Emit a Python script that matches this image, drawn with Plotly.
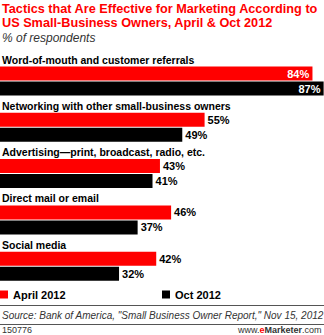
import plotly.graph_objects as go

categories = [
    "Word-of-mouth and customer referrals",
    "Networking with other small-business owners",
    "Advertising\u2014print, broadcast, radio, etc.",
    "Direct mail or email",
    "Social media",
]
april_2012 = [84, 55, 43, 46, 42]
oct_2012 = [87, 49, 41, 37, 32]
series_names = ["April 2012", "Oct 2012"]

RED = "#FF0000"
BLACK = "#000000"
FONT = "Liberation Sans, Arial, sans-serif"
W, H = 324, 335

# layout geometry (pixel units on reversed y axis)
TOP0, STEP = 52.0, 46.3
tops = [TOP0 + STEP * i for i in range(len(categories))]
red_y = [t + 21.5 for t in tops]
blk_y = [t + 36.5 for t in tops]

def positions(vals):
    return ["inside" if v >= 70 else "outside" for v in vals]

fig = go.Figure()
for name, vals, ys, col in [
    (series_names[0], april_2012, red_y, RED),
    (series_names[1], oct_2012, blk_y, BLACK),
]:
    fig.add_trace(go.Bar(
        name=name, x=vals, y=ys, orientation="h", width=14,
        marker=dict(color=col, line=dict(width=0)),
        text=[f"{v}%" for v in vals],
        textposition=positions(vals),
        insidetextanchor="end",
        insidetextfont=dict(color="white", size=11, family=FONT, weight="bold"),
        outsidetextfont=dict(color="black", size=11, family=FONT, weight="bold"),
        constraintext="none",
        cliponaxis=False,
        hoverinfo="skip",
    ))

ann = []
ann.append(dict(text="<b>Tactics that Are Effective for Marketing According to</b>",
                x=0, y=9, xref="paper", yref="y", xanchor="left", yanchor="middle",
                showarrow=False, font=dict(size=12.7, color=RED, family=FONT)))
ann.append(dict(text="<b>US Small-Business Owners, April &amp; Oct 2012</b>",
                x=0, y=23, xref="paper", yref="y", xanchor="left", yanchor="middle",
                showarrow=False, font=dict(size=12.7, color=RED, family=FONT)))
ann.append(dict(text="<i>% of respondents</i>",
                x=0, y=37.5, xref="paper", yref="y", xanchor="left", yanchor="middle",
                showarrow=False, font=dict(size=12, color="#333333", family=FONT)))
for c, t in zip(categories, tops):
    ann.append(dict(text=f"<b>{c}</b>", x=0, y=t + 7.5, xref="paper", yref="y",
                    xanchor="left", yanchor="middle", showarrow=False,
                    font=dict(size=10.5, color="black", family=FONT)))

# legend
shapes = []
for i, (name, col) in enumerate(zip(series_names, [RED, BLACK])):
    x0 = 0 if i == 0 else 162 / W
    shapes.append(dict(type="rect", xref="paper", yref="y", x0=x0, x1=x0 + 8 / W,
                       y0=290.5, y1=298.5, fillcolor=col, line=dict(width=0)))
    ann.append(dict(text=f"<b>{name}</b>", x=x0 + 11 / W, y=295, xref="paper", yref="y",
                    xanchor="left", yanchor="middle", showarrow=False,
                    font=dict(size=11, color="black", family=FONT)))

shapes.append(dict(type="line", xref="paper", yref="y", x0=0, x1=1, y0=305.5, y1=305.5,
                   line=dict(color="#555555", width=1)))
shapes.append(dict(type="line", xref="paper", yref="y", x0=0, x1=1, y0=324.5, y1=324.5,
                   line=dict(color="#555555", width=1)))
ann.append(dict(text="<i>Source: Bank of America, \"Small Business Owner Report,\" Nov 15, 2012</i>",
                x=0, y=315.5, xref="paper", yref="y", xanchor="left", yanchor="middle",
                showarrow=False, font=dict(size=10, color="#333333", family=FONT)))
ann.append(dict(text="150776", x=0, y=330, xref="paper", yref="y", xanchor="left",
                yanchor="middle", showarrow=False,
                font=dict(size=9, color="#333333", family=FONT)))
ann.append(dict(text="www.<b><span style='color:#FF0000'>e</span>Marketer</b>.com",
                x=1, y=330, xref="paper", yref="y", xanchor="right", yanchor="middle",
                showarrow=False, font=dict(size=9, color="#333333", family=FONT)))

fig.update_layout(
    width=W, height=H, margin=dict(l=0, r=0, t=0, b=0),
    paper_bgcolor="white", plot_bgcolor="white",
    showlegend=False, barmode="overlay",
    xaxis=dict(range=[0, 87.1], visible=False, fixedrange=True),
    yaxis=dict(range=[H, 0], visible=False, fixedrange=True),
    annotations=ann, shapes=shapes,
)
fig.write_html("out.html", config={"displayModeBar": False})
